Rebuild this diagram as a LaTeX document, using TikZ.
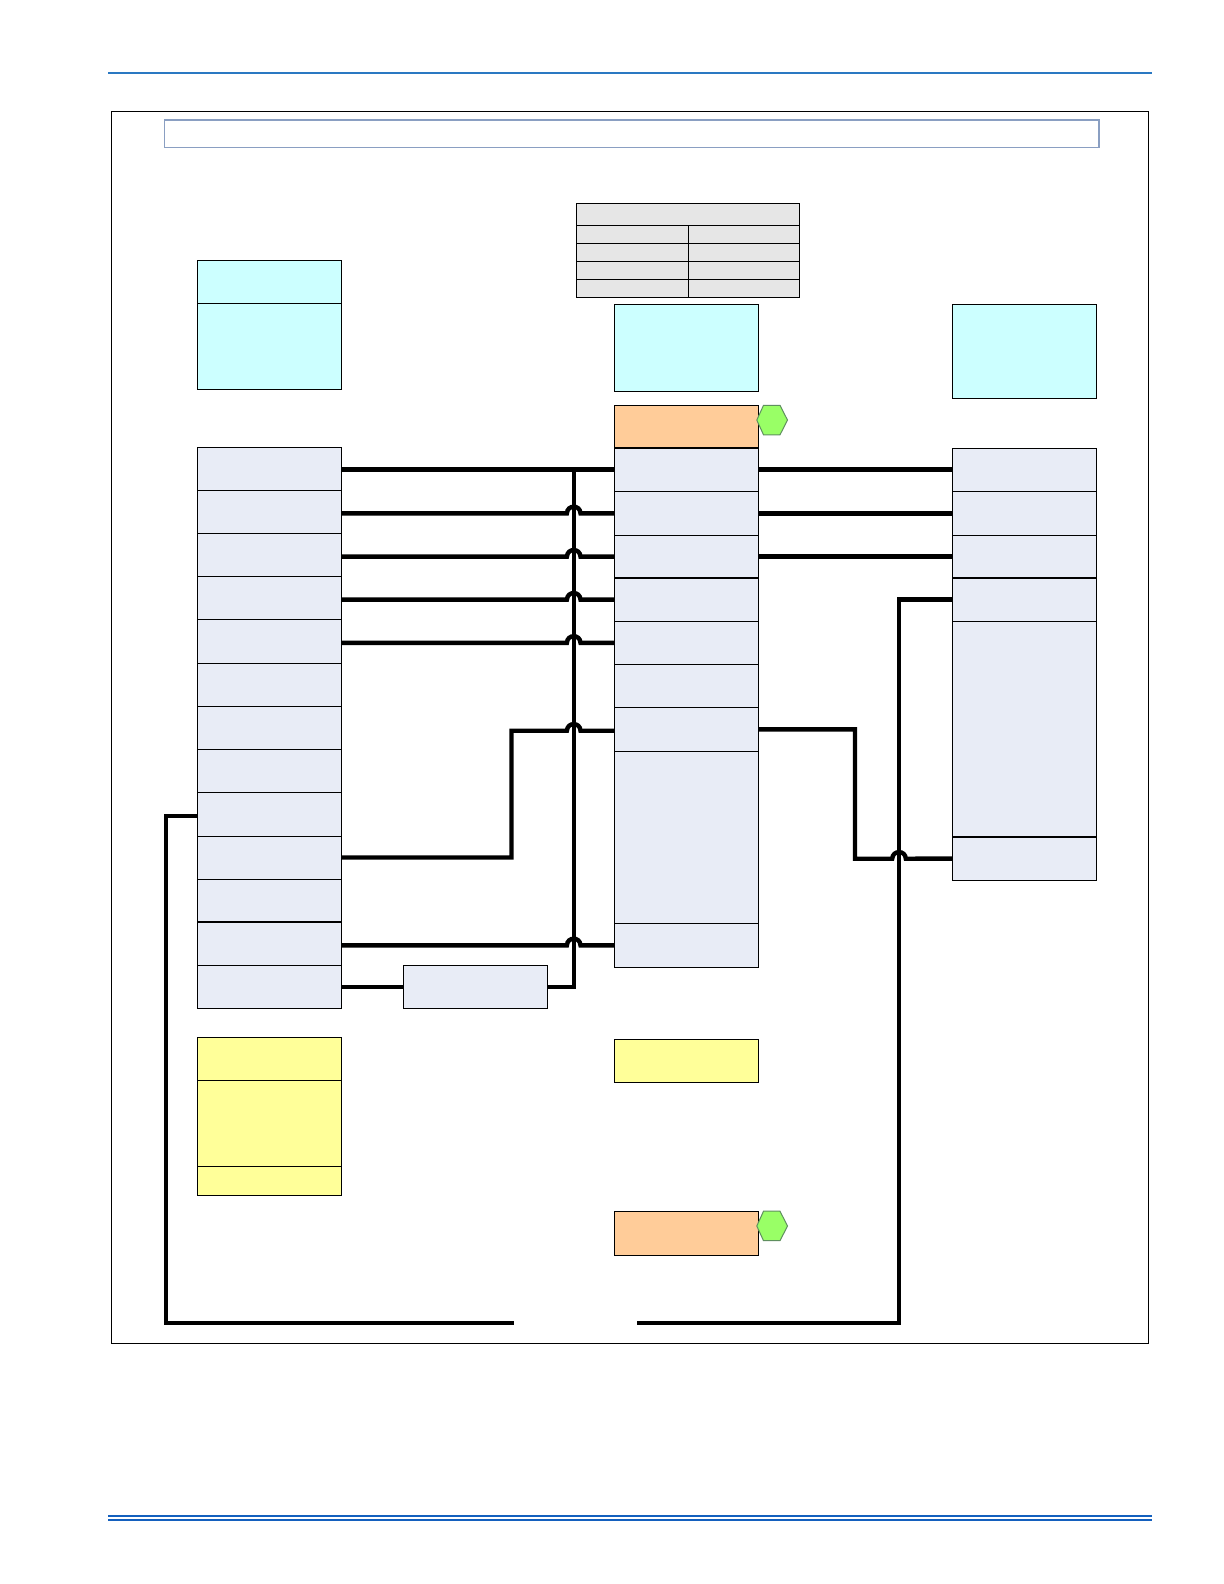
\documentclass[tikz,border=0pt]{standalone}
\usetikzlibrary{calc}
\definecolor{paleblue}{HTML}{E8ECF6}
\definecolor{palecyan}{HTML}{CCFFFF}
\definecolor{paleorange}{HTML}{FFCC99}
\definecolor{paleyellow}{HTML}{FFFF99}
\definecolor{palegray}{HTML}{E6E6E6}
\definecolor{hexgreen}{HTML}{99FF66}
\definecolor{hexedge}{HTML}{5F8F5F}
\definecolor{titleedge}{HTML}{8A9FC2}
\definecolor{rulelight}{HTML}{2A78C2}
\definecolor{ruledark}{HTML}{1460BE}
\tikzset{
  cell/.style={draw=black,line width=0.65pt,rectangle,inner sep=0pt,outer sep=0pt},
  bluecell/.style={cell,fill=paleblue},
  cyancell/.style={cell,fill=palecyan},
  orangecell/.style={cell,fill=paleorange},
  yellowcell/.style={cell,fill=paleyellow},
  graycell/.style={cell,fill=palegray},
  framebox/.style={cell,fill=white},
  titlebox/.style={draw=titleedge,line width=0.8pt,rectangle,fill=white,inner sep=0pt,outer sep=0pt},
  wire/.style={draw=black,line width=2.2pt},
  hexmark/.style={draw=hexedge,fill=hexgreen,line width=0.5pt},
  topline/.style={draw=rulelight,line width=0.8pt},
  botline/.style={draw=ruledark,line width=1.1pt}
}
% name, x1, y1, x2, y2, style
\newcommand\bx[6]{%
  \pgfmathsetmacro\bw{(#4-#2)*0.5}%
  \pgfmathsetmacro\bh{(#5-#3)*0.5}%
  \pgfmathsetmacro\bcx{(#2+#4)/2}%
  \pgfmathsetmacro\bcy{(#3+#5)/2}%
  \node[#6,minimum width=\bw pt,minimum height=\bh pt] (#1) at (\bcx,\bcy) {};%
}
% horizontal wire from x of #1 to #2 at y of #2, hopping the trunk
\newcommand\hopwire[2]{%
  \coordinate (hp) at (#2 -| T);%
  \draw[wire] (#2 -| #1) -- ([xshift=-3.4pt]hp) .. controls ([xshift=-3.2pt,yshift=4.4pt]hp) and ([xshift=3.2pt,yshift=4.4pt]hp) .. ([xshift=3.4pt]hp) -- (#2);%
}
\newcommand\hexat[1]{%
  \draw[hexmark] (756.8,#1+14.8) -- (763.5,#1) -- (780,#1) -- (787.5,#1+14.8) -- (780,#1+29.5) -- (763.5,#1+29.5) -- cycle;%
}
\begin{document}
\begin{tikzpicture}[x=0.5pt,y=-0.5pt]
\useasboundingbox (0,0) rectangle (1224,1584);
\fill[white] (0,0) rectangle (1224,1584);
% page rules
\coordinate (tl) at (108,73.3); \coordinate (tr) at (1152,73.3);
\draw[topline] (tl) -- (tr);
\coordinate (bl1) at (108,1516); \coordinate (br1) at (1152,1516);
\coordinate (bl2) at (108,1519.7); \coordinate (br2) at (1152,1519.7);
\draw[botline] (bl1) -- (br1);
\draw[botline] (bl2) -- (br2);
% frame and title
\bx{frame}{111.5}{111.3}{1148.7}{1343.3}{framebox}
\bx{title}{164.3}{120}{1099}{147.3}{titlebox}
% table
\bx{tbH}{576.6}{203.3}{799.3}{225.3}{graycell}
\bx{tbA1}{576.6}{225.3}{688.6}{243.3}{graycell}
\bx{tbB1}{688.6}{225.3}{799.3}{243.3}{graycell}
\bx{tbA2}{576.6}{243.3}{688.6}{261.3}{graycell}
\bx{tbB2}{688.6}{243.3}{799.3}{261.3}{graycell}
\bx{tbA3}{576.6}{261.3}{688.6}{279.3}{graycell}
\bx{tbB3}{688.6}{261.3}{799.3}{279.3}{graycell}
\bx{tbA4}{576.6}{279.3}{688.6}{297.3}{graycell}
\bx{tbB4}{688.6}{279.3}{799.3}{297.3}{graycell}
% cyan boxes
\bx{cyL1}{197.5}{260.3}{341.6}{303.3}{cyancell}
\bx{cyL2}{197.5}{303.3}{341.6}{389.3}{cyancell}
\bx{cyC}{614.5}{304.3}{758.4}{391.3}{cyancell}
\bx{cyR}{952.3}{304.3}{1096.7}{398.3}{cyancell}
\coordinate (T) at (573.7,600);
% left column
\bx{L1}{197.5}{447.3}{341.6}{490.3}{bluecell}
\bx{L2}{197.5}{490.3}{341.6}{533.3}{bluecell}
\bx{L3}{197.5}{533.3}{341.6}{576.3}{bluecell}
\bx{L4}{197.5}{576.3}{341.6}{619.3}{bluecell}
\bx{L5}{197.5}{619.3}{341.6}{663.3}{bluecell}
\bx{L6}{197.5}{663.3}{341.6}{706.3}{bluecell}
\bx{L7}{197.5}{706.3}{341.6}{749.3}{bluecell}
\bx{L8}{197.5}{749.3}{341.6}{792.3}{bluecell}
\bx{L9}{197.5}{792.3}{341.6}{836.3}{bluecell}
\bx{L10}{197.5}{836.3}{341.6}{879.3}{bluecell}
\bx{L11}{197.5}{879.3}{341.6}{922}{bluecell}
\bx{L12}{197.5}{922}{341.6}{965.3}{bluecell}
\bx{L13}{197.5}{965.3}{341.6}{1008.3}{bluecell}
\bx{mid}{403.3}{965.3}{547.7}{1008.3}{bluecell}
% centre column
\bx{top}{614.5}{405.3}{758.4}{448}{orangecell}
\bx{C1}{614.5}{448}{758.4}{491.3}{bluecell}
\bx{C2}{614.5}{491.3}{758.4}{535.3}{bluecell}
\bx{C3}{614.5}{535.3}{758.4}{578}{bluecell}
\bx{C4}{614.5}{578}{758.4}{621.3}{bluecell}
\bx{C5}{614.5}{621.3}{758.4}{664.3}{bluecell}
\bx{C6}{614.5}{664.3}{758.4}{707.3}{bluecell}
\bx{C7}{614.5}{707.3}{758.4}{751.3}{bluecell}
\bx{C8}{614.5}{751.3}{758.4}{923.3}{bluecell}
\bx{C9}{614.5}{923.3}{758.4}{967.3}{bluecell}
% right column
\bx{R1}{952.3}{448.7}{1096.7}{491.3}{bluecell}
\bx{R2}{952.3}{491.3}{1096.7}{535.3}{bluecell}
\bx{R3}{952.3}{535.3}{1096.7}{578}{bluecell}
\bx{R4}{952.3}{578}{1096.7}{621.3}{bluecell}
\bx{R5}{952.3}{621.3}{1096.7}{837}{bluecell}
\bx{R6}{952.3}{837}{1096.7}{880.3}{bluecell}
% yellow boxes
\bx{YL1}{197.5}{1037.3}{341.6}{1080.3}{yellowcell}
\bx{YL2}{197.5}{1080.3}{341.6}{1166.3}{yellowcell}
\bx{YL3}{197.5}{1166.3}{341.6}{1195.3}{yellowcell}
\bx{YC}{614.5}{1039.3}{758.4}{1082.3}{yellowcell}
% lower orange
\bx{bot}{614.5}{1211.3}{758.4}{1255.3}{orangecell}
% hexagons
\hexat{405.3}
\hexat{1211.2}
% trunk and straight runs
\draw[wire] (C1.west -| L1.east) -- (C1.west);
\draw[wire] (C1.east) -- (C1.east -| R1.west);
\draw[wire] (C2.east) -- (C2.east -| R2.west);
\draw[wire] (C3.east) -- (C3.east -| R3.west);
\draw[wire] (L13.east) -- (mid.west);
\draw[wire] (mid.east) -- (mid.east -| T) -- (C1.west -| T);
% hopping runs
\hopwire{L2.east}{C2.west}
\hopwire{L3.east}{C3.west}
\hopwire{L4.east}{C4.west}
\hopwire{L5.east}{C5.west}
\hopwire{L12.east}{C9.west}
% L10 to C7
\coordinate (sA) at (511.5,857.5);
\coordinate (sB) at (511.5,730.7);
\coordinate (c7in) at ([yshift=-0.7pt]C7.west);
\coordinate (hp) at (c7in -| T);
\draw[wire] (L10.east |- sA) -- (sA) -- (sB) -- ([xshift=-3.4pt]hp) .. controls ([xshift=-3.2pt,yshift=4.4pt]hp) and ([xshift=3.2pt,yshift=4.4pt]hp) .. ([xshift=3.4pt]hp) -- (c7in);
% long outer loop
\coordinate (lpA) at (166,1323);
\coordinate (lpB) at (514,1323);
\coordinate (lpC) at (637,1323);
\coordinate (lpD) at (899,1323);
\draw[wire] ([yshift=-0.8pt]L9.west) -- ([yshift=-0.8pt]L9.west -| lpA) -- (lpA) -- (lpB);
\draw[wire] (R4.west) -- (R4.west -| lpD) -- (lpD) -- (lpC);
% C7 to R6
\coordinate (rA) at (855,729.3);
\coordinate (rB) at (855,858.7);
\coordinate (hq) at (899,858.7);
\draw[wire] (C7.east) -- (rA) -- (rB) -- ([xshift=-3.4pt]hq) .. controls ([xshift=-3.2pt,yshift=4.4pt]hq) and ([xshift=3.2pt,yshift=4.4pt]hq) .. ([xshift=3.4pt]hq) -- (R6.west);
\end{tikzpicture}
\end{document}
